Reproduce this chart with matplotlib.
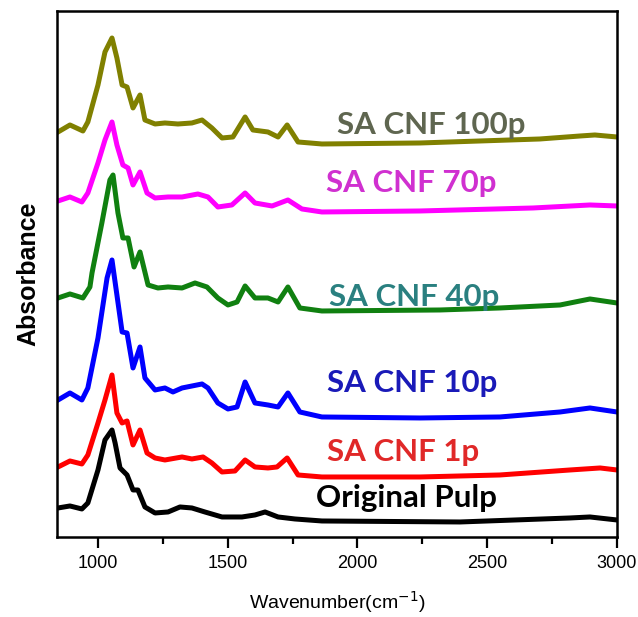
import matplotlib
matplotlib.use('Agg')
import matplotlib.pyplot as plt
from matplotlib.ticker import MultipleLocator

# FTIR spectra, values (arbitrary absorbance units, stacked)
wn_100p = [846, 892, 942, 961, 1000, 1027, 1054, 1073, 1093, 1112, 1135, 1162, 1181, 1220, 1258, 1308,
           1362, 1401, 1439, 1478, 1520, 1567, 1597, 1655, 1694, 1729, 1771, 1863, 2241, 2472, 2703,
           2858, 2915, 3000]
ab_100p = [4.05, 4.12, 4.06, 4.15, 4.52, 4.85, 4.99, 4.79, 4.52, 4.50, 4.29, 4.42, 4.17, 4.13, 4.14, 4.13,
           4.14, 4.17, 4.09, 3.99, 4.00, 4.20, 4.07, 4.05, 4.00, 4.12, 3.95, 3.93, 3.94, 3.96, 3.98,
           4.01, 4.02, 4.00]

wn_70p = [846, 892, 938, 961, 1000, 1027, 1054, 1073, 1096, 1116, 1135, 1162, 1189, 1220, 1270, 1324,
          1385, 1424, 1462, 1516, 1567, 1605, 1671, 1732, 1786, 1863, 2241, 2677, 2896, 3000]
ab_70p = [3.36, 3.40, 3.35, 3.44, 3.74, 3.97, 4.15, 3.92, 3.72, 3.69, 3.52, 3.65, 3.44, 3.39, 3.40, 3.40,
          3.43, 3.40, 3.30, 3.32, 3.44, 3.34, 3.31, 3.37, 3.28, 3.25, 3.26, 3.29, 3.32, 3.31]

wn_40p = [846, 892, 942, 969, 977, 1015, 1046, 1058, 1077, 1096, 1116, 1139, 1162, 1193, 1231, 1270,
          1324, 1374, 1420, 1462, 1501, 1536, 1567, 1605, 1655, 1694, 1732, 1778, 1863, 2318, 2549,
          2781, 2896, 3000]
ab_40p = [2.39, 2.43, 2.39, 2.50, 2.64, 3.14, 3.57, 3.62, 3.24, 2.99, 2.99, 2.70, 2.85, 2.52, 2.49, 2.50,
          2.49, 2.54, 2.50, 2.39, 2.32, 2.35, 2.51, 2.39, 2.39, 2.35, 2.50, 2.29, 2.26, 2.27, 2.29,
          2.32, 2.38, 2.34]

wn_10p = [846, 892, 938, 961, 1000, 1035, 1054, 1073, 1093, 1112, 1135, 1162, 1181, 1220, 1258, 1289,
          1324, 1401, 1424, 1462, 1501, 1536, 1567, 1605, 1655, 1694, 1732, 1778, 1863, 2241, 2549,
          2781, 2896, 3000]
ab_10p = [1.37, 1.44, 1.37, 1.49, 1.99, 2.59, 2.77, 2.42, 2.05, 2.04, 1.69, 1.90, 1.59, 1.47, 1.49, 1.45,
          1.49, 1.53, 1.49, 1.34, 1.28, 1.30, 1.55, 1.34, 1.32, 1.30, 1.44, 1.25, 1.20, 1.19, 1.20,
          1.25, 1.29, 1.25]

wn_1p = [846, 892, 938, 961, 1000, 1027, 1054, 1073, 1093, 1112, 1135, 1162, 1189, 1220, 1258, 1324,
         1362, 1405, 1439, 1478, 1528, 1567, 1605, 1655, 1690, 1729, 1771, 1863, 2241, 2549, 2819,
         2935, 3000]
ab_1p = [0.70, 0.76, 0.73, 0.82, 1.14, 1.37, 1.62, 1.24, 1.14, 1.16, 0.92, 1.07, 0.84, 0.79, 0.77, 0.80,
         0.78, 0.80, 0.74, 0.65, 0.66, 0.77, 0.70, 0.69, 0.70, 0.79, 0.62, 0.60, 0.60, 0.62, 0.67,
         0.69, 0.67]

wn_pulp = [846, 892, 938, 961, 1000, 1027, 1054, 1066, 1085, 1112, 1135, 1154, 1181, 1220, 1270, 1316,
           1362, 1412, 1478, 1555, 1605, 1644, 1694, 1759, 1863, 2395, 2819, 2896, 3000]
ab_pulp = [0.29, 0.31, 0.28, 0.34, 0.67, 0.97, 1.07, 0.94, 0.69, 0.62, 0.47, 0.47, 0.30, 0.24, 0.25, 0.30,
           0.29, 0.25, 0.20, 0.20, 0.22, 0.25, 0.20, 0.18, 0.16, 0.15, 0.19, 0.20, 0.17]

labels = ['SA CNF 100p', 'SA CNF 70p', 'SA CNF 40p', 'SA CNF 10p', 'SA CNF 1p', 'Original Pulp']
label_x = [1921, 1879, 1890, 1883, 1883, 1840]
label_y = [4.12, 3.54, 2.40, 1.54, 0.85, 0.39]
line_colors = ['#808000', '#ff00ff', '#108010', '#0000ff', '#ff0000', '#000000']
text_colors = ['#5f6650', '#d030d0', '#2a8080', '#1a1ab8', '#e02828', '#000000']

fig = plt.figure(figsize=(6.38, 6.17), dpi=100)
ax = fig.add_axes([0.0893, 0.1297, 0.8777, 0.8525])

series = [(wn_100p, ab_100p), (wn_70p, ab_70p), (wn_40p, ab_40p),
          (wn_10p, ab_10p), (wn_1p, ab_1p), (wn_pulp, ab_pulp)]
for (wn, ab), c in zip(series, line_colors):
    ax.plot(wn, ab, color=c, lw=3.6, solid_joinstyle='round')

for txt, x, y, c in zip(labels, label_x, label_y, text_colors):
    ax.text(x, y, txt, color=c, fontsize=22.5, fontweight='bold',
            family=['Lato', 'DejaVu Sans'], ha='left', va='center')

ax.set_xlim(842, 3000)
ax.set_ylim(0, 5.26)
ax.set_yticks([])
ax.xaxis.set_major_locator(MultipleLocator(500))
ax.xaxis.set_minor_locator(MultipleLocator(250))
ax.tick_params(axis='x', which='major', length=8, width=1.6, direction='out', pad=5)
ax.tick_params(axis='x', which='minor', length=5, width=1.6, direction='out')
for lab in ax.get_xticklabels():
    lab.set_family(['Liberation Sans', 'DejaVu Sans'])
    lab.set_fontsize(13)
for sp in ax.spines.values():
    sp.set_linewidth(1.8)

ax.set_xlabel('Wavenumber(cm$^{-1}$)', fontsize=14,
              family=['Liberation Sans', 'DejaVu Sans'], labelpad=12)
ax.set_ylabel('Absorbance', fontsize=18, fontweight='bold',
              family=['Liberation Sans', 'DejaVu Sans'], labelpad=12)

fig.savefig('out.png', dpi=100)
